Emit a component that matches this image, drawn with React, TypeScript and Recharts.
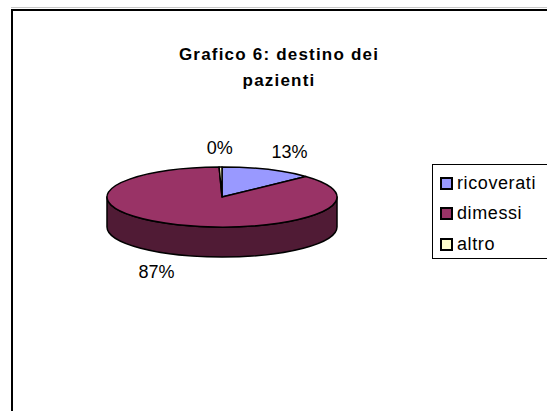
import { PieChart, Pie, Cell, Legend } from 'recharts';

const categories = ['ricoverati', 'dimessi', 'altro'];
const values = [13, 86.6, 0.4];
const colors = ['#9999FF', '#993366', '#FFFFCC'];

const data = categories.map((name, i) => ({ name, value: values[i] }));

const CX = 222;
const CY = 197;
const RX = 115;
const TILT = 30 / 115;
const DEPTH = 30;
const FONT = '"Liberation Sans", Arial, sans-serif';

function darken(hex: string, k = 0.52) {
  const n = parseInt(hex.slice(1), 16);
  const r = Math.round(((n >> 16) & 255) * k);
  const g = Math.round(((n >> 8) & 255) * k);
  const b = Math.round((n & 255) * k);
  return `rgb(${r},${g},${b})`;
}

function pt(cx: number, cy: number, r: number, deg: number) {
  const a = (deg * Math.PI) / 180;
  return [cx + r * Math.cos(a), cy - r * Math.sin(a) * TILT];
}

// elliptical sector with its front wall, gives the flat 3d look
function Slice3D(props: any) {
  const { cx, cy, outerRadius: r, startAngle, endAngle, fill } = props;
  const ry = r * TILT;
  const s = pt(cx, cy, r, startAngle);
  const e = pt(cx, cy, r, endAngle);
  const large = Math.abs(startAngle - endAngle) > 180 ? 1 : 0;
  const top = `M${cx},${cy} L${s[0]},${s[1]} A${r},${ry} 0 ${large} 1 ${e[0]},${e[1]} Z`;

  const hi = Math.min(Math.max(startAngle, endAngle), 0);
  const lo = Math.max(Math.min(startAngle, endAngle), -180);
  let side = null;
  if (hi > lo) {
    const a = pt(cx, cy, r, hi);
    const b = pt(cx, cy, r, lo);
    const big = hi - lo > 180 ? 1 : 0;
    const d = `M${a[0]},${a[1]} A${r},${ry} 0 ${big} 1 ${b[0]},${b[1]} L${b[0]},${b[1] + DEPTH} A${r},${ry} 0 ${big} 0 ${a[0]},${a[1] + DEPTH} Z`;
    side = <path d={d} fill={darken(fill)} stroke="#000" strokeWidth={1.5} strokeLinejoin="round" />;
  }
  return (
    <g>
      {side}
      <path d={top} fill={fill} stroke="#000" strokeWidth={1.5} strokeLinejoin="round" />
    </g>
  );
}

function renderLabel(props: any) {
  const { cx, cy, midAngle, percent } = props;
  const a = (midAngle * Math.PI) / 180;
  const x = cx + 170 * Math.cos(a);
  const y = cy - 49 * Math.sin(a) + (Math.sin(a) < 0 ? DEPTH : 0);
  return (
    <text x={x} y={y} textAnchor="middle" dominantBaseline="central" fontSize={18} fontFamily={FONT} fill="#000">
      {`${Math.round(percent * 100)}%`}
    </text>
  );
}

function LegendBox({ payload }: any) {
  const items = [...(payload || [])].sort(
    (a: any, b: any) => categories.indexOf(a.value) - categories.indexOf(b.value)
  );
  return (
    <div style={{ border: '1px solid #000', width: 130, height: 95, boxSizing: 'border-box', paddingTop: 3, background: '#fff' }}>
      {items.map((p: any) => (
        <div key={p.value} style={{ display: 'flex', alignItems: 'center', height: 30.5, paddingLeft: 7 }}>
          <span style={{ width: 13, height: 13, boxSizing: 'border-box', border: '2px solid #000', background: p.color, marginRight: 4 }} />
          <span style={{ fontFamily: FONT, fontSize: 18, letterSpacing: 0.6, color: '#000' }}>{p.value}</span>
        </div>
      ))}
    </div>
  );
}

export default function App() {
  return (
    <div style={{ position: 'absolute', left: 0, top: 0, width: 547, height: 411, overflow: 'hidden', background: '#fff' }}>
      <div style={{ position: 'absolute', left: 11, top: 7, width: 536, height: 1, background: '#c8c8c8' }} />
      <div style={{ position: 'absolute', left: 11, top: 9, width: 600, height: 500, border: '2px solid #000' }} />
      <div
        style={{
          position: 'absolute', left: 170, top: 42, width: 218, textAlign: 'center',
          fontFamily: FONT, fontWeight: 'bold', fontSize: 17, lineHeight: '26px', letterSpacing: 1.2, color: '#000',
        }}
      >
        Grafico 6: destino dei<br />pazienti
      </div>
      <div style={{ position: 'absolute', left: 0, top: 0 }}>
        <PieChart width={547} height={411} margin={{ top: 0, right: 0, bottom: 0, left: 0 }}>
          <Pie
            data={data}
            dataKey="value"
            nameKey="name"
            cx={CX}
            cy={CY}
            outerRadius={RX}
            startAngle={90}
            endAngle={-270}
            stroke="#000"
            isAnimationActive={false}
            shape={Slice3D}
            activeShape={Slice3D}
            inactiveShape={Slice3D}
            label={renderLabel}
            labelLine={false}
          >
            {data.map((d, i) => (
              <Cell key={d.name} fill={colors[i]} />
            ))}
          </Pie>
          <Legend
            layout="vertical"
            align="right"
            verticalAlign="top"
            content={LegendBox}
            wrapperStyle={{ left: 432, top: 164, right: 'auto', width: 130 }}
          />
        </PieChart>
      </div>
    </div>
  );
}
